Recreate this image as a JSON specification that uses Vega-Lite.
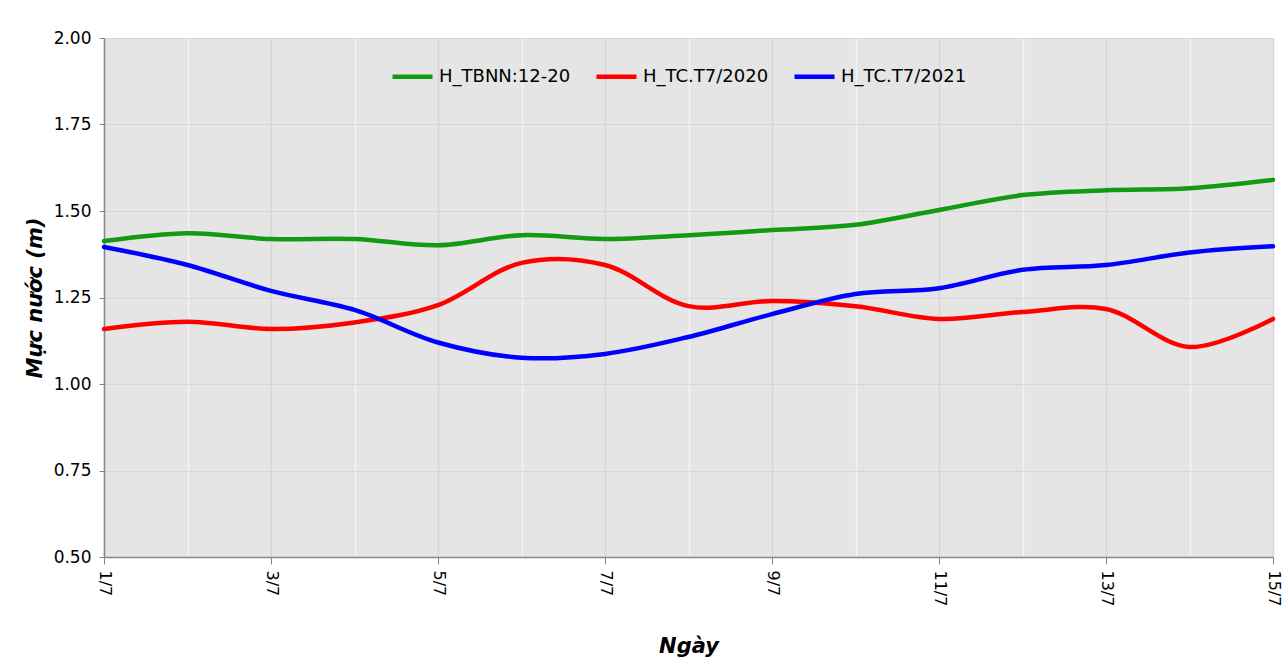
{
  "$schema": "https://vega.github.io/schema/vega-lite/v6.json",
  "width": 1169,
  "height": 519,
  "autosize": "none",
  "padding": {"left": 104, "top": 38, "right": 12, "bottom": 102},
  "background": "white",
  "config": {
    "view": {"fill": "#e5e5e5", "stroke": null},
    "font": "DejaVu Sans"
  },
  "data": {
    "values": [
      {"d": 1, "s": "H_TBNN:12-20", "v": 1.413},
      {"d": 2, "s": "H_TBNN:12-20", "v": 1.436},
      {"d": 3, "s": "H_TBNN:12-20", "v": 1.419},
      {"d": 4, "s": "H_TBNN:12-20", "v": 1.419},
      {"d": 5, "s": "H_TBNN:12-20", "v": 1.401},
      {"d": 6, "s": "H_TBNN:12-20", "v": 1.43},
      {"d": 7, "s": "H_TBNN:12-20", "v": 1.419},
      {"d": 8, "s": "H_TBNN:12-20", "v": 1.43},
      {"d": 9, "s": "H_TBNN:12-20", "v": 1.445},
      {"d": 10, "s": "H_TBNN:12-20", "v": 1.46},
      {"d": 11, "s": "H_TBNN:12-20", "v": 1.503},
      {"d": 12, "s": "H_TBNN:12-20", "v": 1.546},
      {"d": 13, "s": "H_TBNN:12-20", "v": 1.56},
      {"d": 14, "s": "H_TBNN:12-20", "v": 1.566},
      {"d": 15, "s": "H_TBNN:12-20", "v": 1.59},
      {"d": 1, "s": "H_TC.T7/2020", "v": 1.159},
      {"d": 2, "s": "H_TC.T7/2020", "v": 1.18},
      {"d": 3, "s": "H_TC.T7/2020", "v": 1.159},
      {"d": 4, "s": "H_TC.T7/2020", "v": 1.178},
      {"d": 5, "s": "H_TC.T7/2020", "v": 1.228},
      {"d": 6, "s": "H_TC.T7/2020", "v": 1.35},
      {"d": 7, "s": "H_TC.T7/2020", "v": 1.344},
      {"d": 8, "s": "H_TC.T7/2020", "v": 1.225},
      {"d": 9, "s": "H_TC.T7/2020", "v": 1.24},
      {"d": 10, "s": "H_TC.T7/2020", "v": 1.225},
      {"d": 11, "s": "H_TC.T7/2020", "v": 1.188},
      {"d": 12, "s": "H_TC.T7/2020", "v": 1.208},
      {"d": 13, "s": "H_TC.T7/2020", "v": 1.217},
      {"d": 14, "s": "H_TC.T7/2020", "v": 1.107},
      {"d": 15, "s": "H_TC.T7/2020", "v": 1.188},
      {"d": 1, "s": "H_TC.T7/2021", "v": 1.396},
      {"d": 2, "s": "H_TC.T7/2021", "v": 1.344},
      {"d": 3, "s": "H_TC.T7/2021", "v": 1.269},
      {"d": 4, "s": "H_TC.T7/2021", "v": 1.214},
      {"d": 5, "s": "H_TC.T7/2021", "v": 1.12},
      {"d": 6, "s": "H_TC.T7/2021", "v": 1.076},
      {"d": 7, "s": "H_TC.T7/2021", "v": 1.087},
      {"d": 8, "s": "H_TC.T7/2021", "v": 1.136},
      {"d": 9, "s": "H_TC.T7/2021", "v": 1.202},
      {"d": 10, "s": "H_TC.T7/2021", "v": 1.26},
      {"d": 11, "s": "H_TC.T7/2021", "v": 1.277},
      {"d": 12, "s": "H_TC.T7/2021", "v": 1.33},
      {"d": 13, "s": "H_TC.T7/2021", "v": 1.344},
      {"d": 14, "s": "H_TC.T7/2021", "v": 1.38},
      {"d": 15, "s": "H_TC.T7/2021", "v": 1.398}
    ]
  },
  "mark": {"type": "line", "interpolate": "catmull-rom", "strokeWidth": 4.5, "strokeCap": "round"},
  "encoding": {
    "x": {
      "field": "d",
      "type": "quantitative",
      "scale": {"domain": [1, 15], "nice": false, "zero": false},
      "axis": {
        "values": [1, 2, 3, 4, 5, 6, 7, 8, 9, 10, 11, 12, 13, 14, 15],
        "labelExpr": "datum.value % 2 === 1 ? datum.value + '/7' : ''",
        "labelAngle": 90,
        "labelAlign": "left",
        "labelBaseline": "middle",
        "labelFontSize": 16,
        "labelColor": "#000",
        "labelPadding": 6,
        "tickOpacity": {"condition": {"test": "datum.value % 2 === 0", "value": 0}, "value": 1},
        "tickColor": "#888",
        "tickSize": 7,
        "domainColor": "#888",
        "domainWidth": 1.5,
        "grid": true,
        "gridColor": {"condition": {"test": "datum.value % 2 === 0", "value": "#f4f4f4"}, "value": "#d6d6d6"},
        "gridWidth": 1.5,
        "title": "Ngày",
        "titleFont": "DejaVu Sans",
        "titleFontSize": 21,
        "titleFontWeight": "bold",
        "titleFontStyle": "italic",
        "titleColor": "#000",
        "titlePadding": 30
      }
    },
    "y": {
      "field": "v",
      "type": "quantitative",
      "scale": {"domain": [0.5, 2.0], "nice": false, "zero": false},
      "axis": {
        "values": [0.5, 0.75, 1.0, 1.25, 1.5, 1.75, 2.0],
        "format": ".2f",
        "labelFontSize": 17,
        "labelColor": "#000",
        "labelPadding": 8,
        "tickColor": "#888",
        "tickSize": 5,
        "domainColor": "#888",
        "domainWidth": 1.5,
        "grid": true,
        "gridColor": "#d6d6d6",
        "gridWidth": 1.2,
        "title": "Mực nước (m)",
        "titleFont": "DejaVu Sans",
        "titleFontSize": 21,
        "titleFontWeight": "bold",
        "titleFontStyle": "italic",
        "titleColor": "#000",
        "titlePadding": 8
      }
    },
    "color": {
      "field": "s",
      "type": "nominal",
      "scale": {
        "domain": ["H_TBNN:12-20", "H_TC.T7/2020", "H_TC.T7/2021"],
        "range": ["#129a12", "#ff0000", "#0000ff"]
      },
      "legend": {
        "title": null,
        "orient": "none",
        "legendX": 286,
        "legendY": 16,
        "direction": "horizontal",
        "symbolType": "stroke",
        "symbolSize": 1600,
        "symbolStrokeWidth": 4.5,
        "labelFontSize": 18,
        "labelColor": "#000",
        "labelFont": "DejaVu Sans",
        "labelOffset": 4,
        "columnPadding": 16
      }
    }
  }
}
